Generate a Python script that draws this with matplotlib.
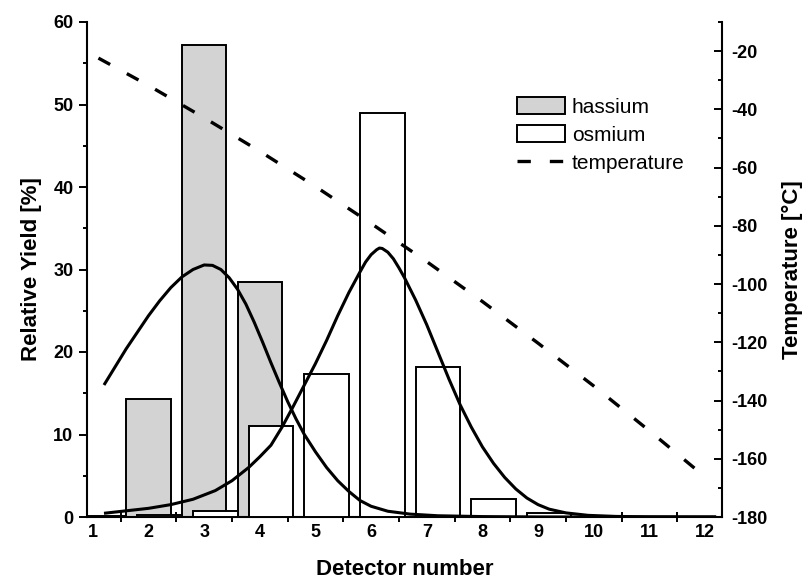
import numpy as np
import matplotlib
matplotlib.use('Agg')
import matplotlib.pyplot as plt
from matplotlib.patches import Patch
from matplotlib.lines import Line2D

# ---------------- data ----------------
detector_labels = [str(i) for i in range(1, 13)]
detector_pos = list(range(1, 13))

hs_pos = [2, 3, 4]
hs_yield = [14.3, 57.2, 28.5]

os_pos = [1.2, 2.2, 3.2, 4.2, 5.2, 6.2, 7.2, 8.2, 9.2]
os_yield = [0.15, 0.3, 0.7, 11.0, 17.3, 49.0, 18.2, 2.2, 0.5]

hs_fit_x = [1.2, 1.4, 1.6, 1.8, 2.0, 2.2, 2.4, 2.6, 2.8, 3.0, 3.15, 3.3,
            3.45, 3.6, 3.75, 3.9, 4.05, 4.2, 4.35, 4.5, 4.65, 4.8, 5.0,
            5.2, 5.4, 5.6, 5.8, 6.0, 6.3, 6.7, 7.2, 8.0, 9.0, 10.0, 11.0, 12.2]
hs_fit_y = [16.0, 18.2, 20.4, 22.4, 24.4, 26.2, 27.8, 29.1, 30.0, 30.55, 30.5,
            30.0, 29.0, 27.6, 25.8, 23.6, 21.2, 18.7, 16.3, 14.0, 11.9, 10.0,
            7.9, 6.0, 4.4, 3.1, 2.0, 1.3, 0.7, 0.35, 0.15, 0.05, 0.01, 0.0,
            0.0, 0.0]

os_fit_x = [1.2, 1.6, 2.0, 2.4, 2.8, 3.2, 3.5, 3.8, 4.0, 4.2, 4.4, 4.6, 4.8,
            5.0, 5.2, 5.4, 5.6, 5.8, 5.9, 6.0, 6.1, 6.15, 6.2, 6.3, 6.4, 6.5,
            6.6, 6.8, 7.0, 7.2, 7.4, 7.6, 7.8, 8.0, 8.2, 8.4, 8.6, 8.8, 9.0,
            9.2, 9.5, 9.9, 10.4, 11.0, 12.2]
os_fit_y = [0.45, 0.75, 1.05, 1.5, 2.15, 3.2, 4.4, 6.0, 7.3, 8.7, 10.9, 13.4,
            16.0, 18.6, 21.4, 24.4, 27.2, 29.7, 30.9, 31.8, 32.4, 32.6, 32.55,
            32.1, 31.3, 30.2, 29.0, 26.3, 23.3, 20.0, 16.7, 13.6, 10.9, 8.5,
            6.5, 4.8, 3.4, 2.3, 1.5, 0.95, 0.5, 0.2, 0.07, 0.02, 0.0]

temp_x = [1.1, 2, 3, 4, 5, 6, 7, 8, 9, 10, 11, 12.05]
temp_y = [-22.4, -31.8, -42.9, -54.4, -66.5, -79.2, -92.3, -106.0, -120.3,
          -135.0, -150.4, -167.0]

# ---------------- style ----------------
plt.rcParams['font.family'] = ['Liberation Sans', 'DejaVu Sans']
plt.rcParams['font.weight'] = 'bold'
plt.rcParams['axes.labelweight'] = 'bold'
plt.rcParams['axes.unicode_minus'] = False

W, H = 806, 584
fig = plt.figure(figsize=(W / 100, H / 100), dpi=100, facecolor='white')
L, R, B, T = 87.3, 721.7, 517.0, 22.0
ax = fig.add_axes([L / W, 1 - B / H, (R - L) / W, (B - T) / H])
ax2 = ax.twinx()

gray = '#d3d3d3'
ax.bar(hs_pos, hs_yield, width=0.8, color=gray, edgecolor='black',
       linewidth=1.4, zorder=2)
ax.bar(os_pos, os_yield, width=0.8, color='white', edgecolor='black',
       linewidth=1.4, zorder=3)
ax.plot(hs_fit_x, hs_fit_y, color='black', lw=2.2, zorder=4,
        solid_joinstyle='round', solid_capstyle='butt')
ax.plot(os_fit_x, os_fit_y, color='black', lw=2.2, zorder=4,
        solid_joinstyle='round', solid_capstyle='butt')

ax2.plot(temp_x, temp_y, color='black', lw=2.4, dashes=(4.0, 5.7))

ax.set_xlim(0.9, 12.3)
ax.set_ylim(0, 60)
ax2.set_ylim(-180, -10)

# x ticks: marks at half positions, labels at integers
ax.set_xticks(np.arange(1.5, 12.0, 1.0))
ax.set_xticklabels([])
ax.set_xticks(detector_pos, minor=True)
ax.set_xticklabels(detector_labels, minor=True)
ax.tick_params(axis='x', which='major', direction='inout', length=7, width=1.4)
ax.tick_params(axis='x', which='minor', length=0, pad=5, labelsize=13)

ax.set_yticks(range(0, 61, 10))
ax.set_yticks(np.arange(5, 60, 10), minor=True)
ax.tick_params(axis='y', which='major', direction='out', length=6, width=1.4,
               labelsize=13, pad=4)
ax.tick_params(axis='y', which='minor', direction='out', length=3, width=1.4)

ax2.set_yticks(range(-180, -19, 20))
ax2.set_yticks(range(-170, -9, 20), minor=True)
ax2.tick_params(axis='y', which='major', direction='in', length=6, width=1.4,
                labelsize=13, pad=7)
ax2.tick_params(axis='y', which='minor', direction='in', length=3, width=1.4)

for s in ['top', 'right']:
    ax.spines[s].set_visible(False)
for s in ['top', 'left', 'bottom']:
    ax2.spines[s].set_visible(False)
ax.spines['left'].set_linewidth(1.5)
ax.spines['bottom'].set_linewidth(1.5)
ax2.spines['right'].set_linewidth(1.5)

ax.set_xlabel('Detector number', fontsize=16, fontweight='bold')
ax.xaxis.set_label_coords(0.5, -0.085)
ax.set_ylabel('Relative Yield [%]', fontsize=16, fontweight='bold')
ax.yaxis.set_label_coords(-0.072, 0.5)
ax2.set_ylabel('Temperature [°C]', fontsize=16, fontweight='bold')
ax2.yaxis.set_label_coords(1.095, 0.5)

handles = [Patch(facecolor=gray, edgecolor='black', linewidth=1.4),
           Patch(facecolor='white', edgecolor='black', linewidth=1.4),
           Line2D([], [], color='black', lw=2.4, dashes=(4.0, 5.7))]
labels = ['hassium', 'osmium', 'temperature']
fig.legend(handles, labels, loc='upper left',
           bbox_to_anchor=(517.3 / W, 1 - 97 / H), frameon=False,
           borderpad=0, borderaxespad=0, handlelength=2.3, handleheight=0.85,
           handletextpad=0.32, labelspacing=0.42,
           prop={'size': 15, 'weight': 'normal'})

fig.savefig('out.png', dpi=100, facecolor='white')
